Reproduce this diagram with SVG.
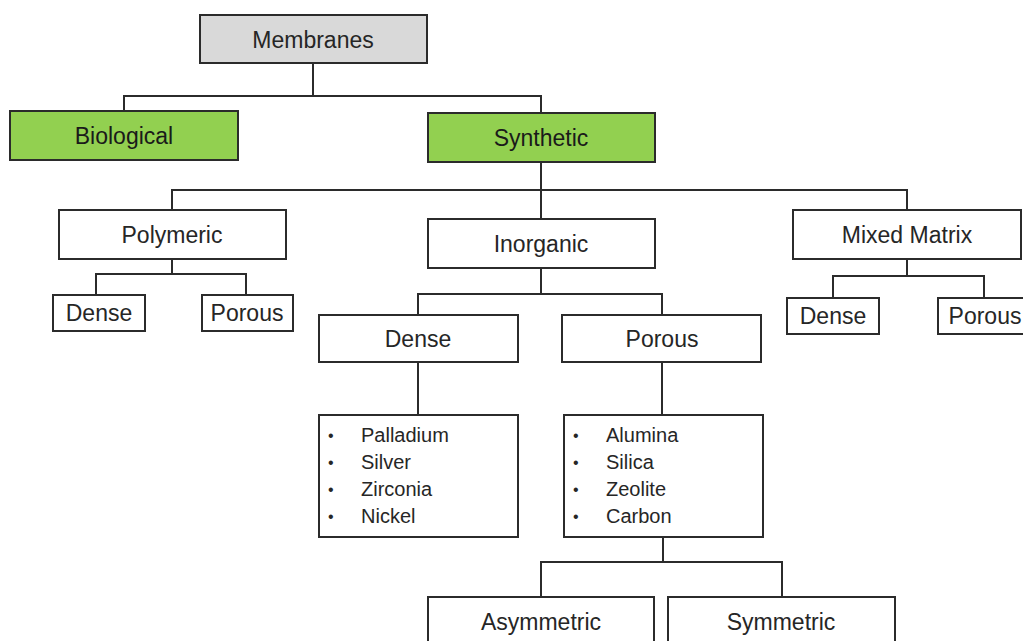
<svg xmlns="http://www.w3.org/2000/svg" width="1023" height="641" viewBox="0 0 1023 641">
<style>
.box{fill:#fff;stroke:#2b2b2b;stroke-width:2}
.gray{fill:#d9d9d9}
.green{fill:#92d050}
.t{font-family:"Liberation Sans",Arial,sans-serif;font-size:23px;fill:#262626;text-anchor:middle}
.l{font-family:"Liberation Sans",Arial,sans-serif;font-size:20px;fill:#262626}
.b{font-family:"Liberation Sans",Arial,sans-serif;font-size:16px;fill:#262626}
.c{fill:none;stroke:#2b2b2b;stroke-width:2}
</style>
<rect width="1023" height="641" fill="#fff"/>
<g id="connectors">
<path class="c" d="M313 63V96M124 111V96H541V113"/>
<path class="c" d="M541 162V190M172 209V190H907V209M541 190V219"/>
<path class="c" d="M172 259V274M96 295V274H246V295"/>
<path class="c" d="M907 259V276M833 298V276H984V298"/>
<path class="c" d="M541 268V294M418 314V294H662V314"/>
<path class="c" d="M418 362V414M662 362V414"/>
<path class="c" d="M663 537V562M541 597V562H782V597"/>
</g>
<g id="membranes"><rect class="box gray" x="200" y="15" width="227" height="48"/><text class="t" x="313" y="48">Membranes</text></g>
<g id="biological"><rect class="box green" x="10" y="111" width="228" height="49"/><text class="t" x="124" y="144" style="fill:#1a1a1a">Biological</text></g>
<g id="synthetic"><rect class="box green" x="428" y="113" width="227" height="49"/><text class="t" x="541" y="146" style="fill:#1a1a1a">Synthetic</text></g>
<g id="polymeric"><rect class="box" x="59" y="210" width="227" height="49"/><text class="t" x="172" y="243">Polymeric</text></g>
<g id="inorganic"><rect class="box" x="428" y="219" width="227" height="49"/><text class="t" x="541" y="252">Inorganic</text></g>
<g id="mixed-matrix"><rect class="box" x="793" y="210" width="228" height="49"/><text class="t" x="907" y="243">Mixed Matrix</text></g>
<g id="poly-dense"><rect class="box" x="53" y="295" width="92" height="36"/><text class="t" x="99" y="321">Dense</text></g>
<g id="poly-porous"><rect class="box" x="202" y="295" width="91" height="36"/><text class="t" x="247" y="321">Porous</text></g>
<g id="mm-dense"><rect class="box" x="787" y="298" width="92" height="36"/><text class="t" x="833" y="324">Dense</text></g>
<g id="mm-porous"><rect class="box" x="938" y="298" width="95" height="36"/><text class="t" x="985" y="324">Porous</text></g>
<g id="inorg-dense"><rect class="box" x="319" y="315" width="199" height="47"/><text class="t" x="418" y="347">Dense</text></g>
<g id="inorg-porous"><rect class="box" x="562" y="315" width="199" height="47"/><text class="t" x="662" y="347">Porous</text></g>
<g id="dense-list"><rect class="box" x="319" y="415" width="199" height="122"/>
<text class="b" x="328" y="441">•</text><text class="l" x="361" y="442">Palladium</text>
<text class="b" x="328" y="468">•</text><text class="l" x="361" y="469">Silver</text>
<text class="b" x="328" y="495">•</text><text class="l" x="361" y="496">Zirconia</text>
<text class="b" x="328" y="522">•</text><text class="l" x="361" y="523">Nickel</text></g>
<g id="porous-list"><rect class="box" x="564" y="415" width="199" height="122"/>
<text class="b" x="573" y="441">•</text><text class="l" x="606" y="442">Alumina</text>
<text class="b" x="573" y="468">•</text><text class="l" x="606" y="469">Silica</text>
<text class="b" x="573" y="495">•</text><text class="l" x="606" y="496">Zeolite</text>
<text class="b" x="573" y="522">•</text><text class="l" x="606" y="523">Carbon</text></g>
<g id="asymmetric"><rect class="box" x="428" y="597" width="226" height="60"/><text class="t" x="541" y="630">Asymmetric</text></g>
<g id="symmetric"><rect class="box" x="668" y="597" width="227" height="60"/><text class="t" x="781" y="630">Symmetric</text></g>
</svg>
